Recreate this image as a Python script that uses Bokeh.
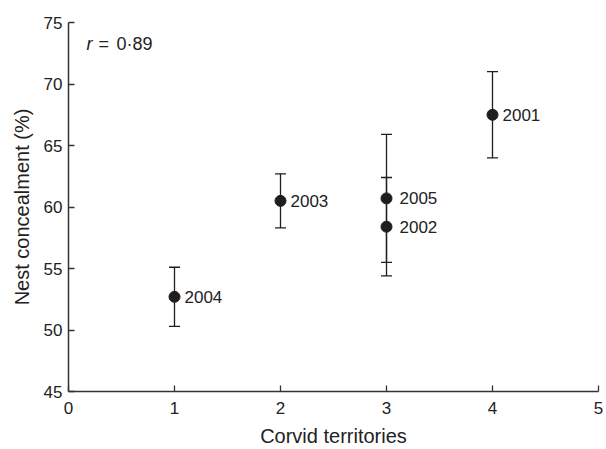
from bokeh.plotting import figure
from bokeh.models import ColumnDataSource, Whisker, TeeHead, Range1d, FixedTicker, Label
from bokeh.embed import file_html
from bokeh.resources import INLINE
from bokeh.core.properties import value

years = ["2001", "2002", "2003", "2004", "2005"]
territories = [4, 3, 2, 1, 3]
concealment = [67.5, 58.4, 60.5, 52.7, 60.7]
upper = [71.0, 62.4, 62.7, 55.1, 65.9]
lower = [64.0, 54.4, 58.3, 50.3, 55.5]

x_ticks = [0, 1, 2, 3, 4, 5]
y_ticks = [45, 50, 55, 60, 65, 70, 75]

label_dx = [10, 13, 10, 10, 13]

FONT = "Liberation Sans"
INK = "#1e1e1e"

src = ColumnDataSource(dict(x=territories, y=concealment, upper=upper, lower=lower,
                            year=years, dx=label_dx))

p = figure(width=606, height=449, output_backend="svg", toolbar_location=None,
           x_range=Range1d(0, 5), y_range=Range1d(45, 75),
           min_border_left=68, min_border_right=8, min_border_top=22, min_border_bottom=55)
p.outline_line_color = None
p.background_fill_color = "white"
p.border_fill_color = "white"
p.xgrid.visible = False
p.ygrid.visible = False

for ax in (p.xaxis[0], p.yaxis[0]):
    ax.axis_line_color = "#333333"
    ax.axis_line_width = 1.5
    ax.major_tick_line_color = "#333333"
    ax.major_tick_line_width = 1.3
    ax.major_tick_in = 6
    ax.major_tick_out = 0
    ax.minor_tick_line_color = None
    ax.major_label_text_font = FONT
    ax.major_label_text_font_size = "17px"
    ax.major_label_text_color = "#222222"
    ax.axis_label_text_font = FONT
    ax.axis_label_text_font_size = "20px"
    ax.axis_label_text_font_style = "normal"
    ax.axis_label_text_color = "#222222"

p.xaxis.ticker = FixedTicker(ticks=x_ticks)
p.yaxis.ticker = FixedTicker(ticks=y_ticks)
p.xaxis.axis_label = "Corvid territories"
p.yaxis.axis_label = "Nest concealment (%)"
p.xaxis.major_label_standoff = 10
p.yaxis.major_label_standoff = 6
p.xaxis.axis_label_standoff = 8
p.yaxis.axis_label_standoff = 8

w = Whisker(source=src, base="x", upper="upper", lower="lower",
            line_color=INK, line_width=1.3,
            upper_head=TeeHead(size=11, line_color=INK, line_width=1.3),
            lower_head=TeeHead(size=11, line_color=INK, line_width=1.3))
p.add_layout(w)

p.scatter("x", "y", source=src, size=11, fill_color=INK, line_color=INK)

p.text("x", "y", text="year", source=src, x_offset="dx", y_offset=0,
       text_font=value(FONT), text_font_size="17px", text_color="#222222",
       text_baseline="middle", text_align="left")

for txt, xs, style in (("r", 18, "italic"), ("=", 30, "normal"), ("0·89", 48, "normal")):
    p.add_layout(Label(x=xs, y=348, x_units="screen", y_units="screen", text=txt,
                       text_font=FONT, text_font_size="18px", text_font_style=style,
                       text_color="#222222", text_baseline="middle"))

open("out.html", "w").write(file_html(p, INLINE))
